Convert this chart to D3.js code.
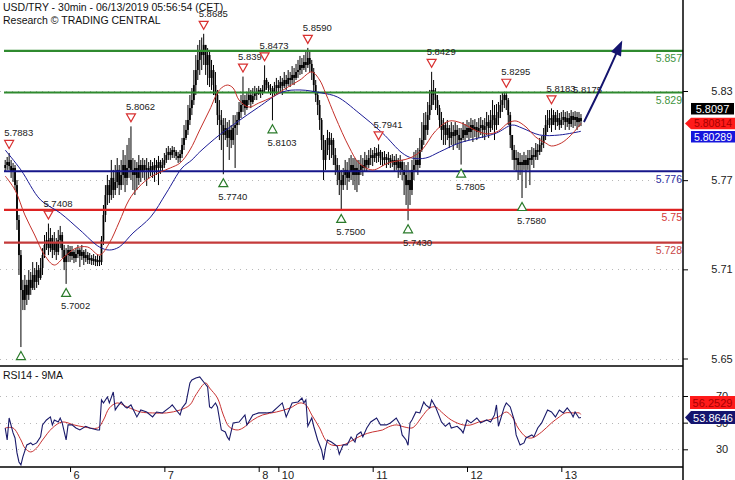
<!DOCTYPE html>
<html><head><meta charset="utf-8">
<script src="https://cdn.jsdelivr.net/npm/d3@7"></script>
<style>body{margin:0;background:#fff}svg{display:block;font-family:"Liberation Sans",Arial,sans-serif}</style>
</head><body><svg id="chart" width="735" height="480"></svg>
<script>
// ---------------- DATA ----------------
const titleLine1 = "USD/TRY - 30min - 06/13/2019 05:56:54 (CET)";
const titleLine2 = "Research \u00A9 TRADING CENTRAL";
const rsiTitle = "RSI14 - 9MA";
const firstOpen = 5.7782;
const closes = [
5.7802,5.7822,5.7795,5.7755,5.7782,5.7667,5.7432,5.7196,5.6961,5.6894,
5.6995,5.6928,5.7029,5.6975,5.7062,5.7015,5.7095,5.7042,5.7109,5.7196,
5.7264,5.7297,5.7243,5.7311,5.7230,5.7284,5.7217,5.7297,5.7331,5.7230,
5.7149,5.7196,5.7230,5.7190,5.7217,5.7176,5.7203,5.7230,5.7190,5.7217,
5.7176,5.7196,5.7163,5.7176,5.7156,5.7169,5.7149,5.7163,5.7149,5.7297,
5.7466,5.7600,5.7667,5.7600,5.7715,5.7634,5.7688,5.7769,5.7667,5.7735,
5.7802,5.7715,5.7782,5.7836,5.7769,5.7735,5.7782,5.7715,5.7802,5.7755,
5.7802,5.7769,5.7782,5.7755,5.7795,5.7769,5.7802,5.7782,5.7822,5.7782,
5.7802,5.7836,5.7869,5.7890,5.7869,5.7903,5.7890,5.7863,5.7849,5.7876,
5.7937,5.7984,5.8038,5.8105,5.8185,5.8239,5.8340,5.8441,5.8509,5.8576,
5.8542,5.8610,5.8475,5.8542,5.8388,5.8441,5.8340,5.8273,5.8138,5.8105,
5.8071,5.8004,5.8051,5.7984,5.8038,5.7970,5.8051,5.8071,5.8105,5.8159,
5.8206,5.8239,5.8185,5.8239,5.8273,5.8226,5.8266,5.8293,5.8280,5.8307,
5.8293,5.8307,5.8374,5.8340,5.8320,5.8307,5.8293,5.8320,5.8340,5.8320,
5.8361,5.8334,5.8374,5.8347,5.8388,5.8374,5.8408,5.8388,5.8428,5.8441,
5.8475,5.8455,5.8495,5.8475,5.8522,5.8482,5.8428,5.8340,5.8273,5.8206,
5.8105,5.7970,5.7836,5.7903,5.7984,5.7937,5.7970,5.7869,5.7802,5.7755,
5.7701,5.7667,5.7735,5.7769,5.7715,5.7755,5.7802,5.7735,5.7782,5.7735,
5.7769,5.7802,5.7782,5.7836,5.7802,5.7849,5.7869,5.7849,5.7883,5.7863,
5.7890,5.7849,5.7836,5.7856,5.7836,5.7849,5.7822,5.7836,5.7802,5.7836,
5.7782,5.7822,5.7769,5.7735,5.7667,5.7701,5.7634,5.7769,5.7802,5.7836,
5.7802,5.7903,5.7970,5.8071,5.8038,5.8138,5.8206,5.8307,5.8273,5.8239,
5.8185,5.8105,5.8038,5.8071,5.8004,5.8051,5.7984,5.8024,5.7997,5.8038,
5.8004,5.7970,5.7984,5.8038,5.8004,5.8051,5.8024,5.8071,5.8038,5.8058,
5.8024,5.8051,5.8071,5.8038,5.8064,5.8091,5.8051,5.8105,5.8138,5.8071,
5.8118,5.8159,5.8206,5.8239,5.8273,5.8239,5.8138,5.8004,5.7903,5.7836,
5.7849,5.7802,5.7822,5.7802,5.7836,5.7802,5.7849,5.7836,5.7869,5.7856,
5.7903,5.7890,5.7937,5.7950,5.8004,5.8071,5.8105,5.8118,5.8071,5.8138,
5.8091,5.8118,5.8071,5.8105,5.8125,5.8091,5.8118,5.8078,5.8132,5.8105,
5.8125,5.8091,5.8118,5.8097];
const highs = [
5.7836,5.7856,5.7883,5.7836,5.7816,5.7802,5.7701,5.7466,5.7230,5.7029,
5.7062,5.7029,5.7095,5.7082,5.7149,5.7109,5.7149,5.7129,5.7176,5.7243,
5.7331,5.7351,5.7408,5.7378,5.7331,5.7351,5.7311,5.7365,5.7392,5.7351,
5.7264,5.7243,5.7264,5.7257,5.7257,5.7230,5.7243,5.7264,5.7243,5.7264,
5.7230,5.7237,5.7217,5.7210,5.7196,5.7203,5.7190,5.7196,5.7190,5.7324,
5.7533,5.7667,5.7735,5.7701,5.7836,5.7769,5.7802,5.7849,5.7802,5.7836,
5.7903,5.7869,5.7937,5.7984,5.8062,5.7849,5.7836,5.7822,5.7869,5.7836,
5.7849,5.7836,5.7849,5.7822,5.7836,5.7822,5.7849,5.7836,5.7863,5.7836,
5.7849,5.7883,5.7916,5.7930,5.7916,5.7930,5.7923,5.7903,5.7890,5.7903,
5.7984,5.8071,5.8105,5.8206,5.8273,5.8320,5.8441,5.8542,5.8610,5.8643,
5.8660,5.8685,5.8610,5.8589,5.8563,5.8509,5.8475,5.8428,5.8307,5.8239,
5.8172,5.8118,5.8118,5.8091,5.8105,5.8071,5.8138,5.8138,5.8159,5.8226,
5.8273,5.8397,5.8273,5.8293,5.8320,5.8307,5.8320,5.8334,5.8320,5.8334,
5.8320,5.8340,5.8473,5.8388,5.8361,5.8347,5.8334,5.8361,5.8388,5.8374,
5.8401,5.8388,5.8428,5.8408,5.8441,5.8428,5.8468,5.8455,5.8482,5.8509,
5.8536,5.8522,5.8542,5.8563,5.8590,5.8563,5.8509,5.8455,5.8374,5.8293,
5.8239,5.8118,5.8004,5.7970,5.8038,5.8024,5.8017,5.7984,5.7916,5.7849,
5.7802,5.7769,5.7782,5.7836,5.7822,5.7849,5.7869,5.7849,5.7849,5.7836,
5.7836,5.7869,5.7849,5.7890,5.7869,5.7903,5.7916,5.7903,5.7923,5.7916,
5.7941,5.7903,5.7890,5.7896,5.7876,5.7890,5.7869,5.7876,5.7863,5.7876,
5.7849,5.7869,5.7836,5.7822,5.7802,5.7822,5.7769,5.7836,5.7890,5.7903,
5.7916,5.7984,5.8091,5.8152,5.8159,5.8226,5.8307,5.8429,5.8374,5.8320,
5.8273,5.8206,5.8159,5.8118,5.8091,5.8105,5.8071,5.8091,5.8071,5.8091,
5.8071,5.8051,5.8051,5.8091,5.8078,5.8105,5.8091,5.8118,5.8105,5.8111,
5.8091,5.8118,5.8125,5.8105,5.8118,5.8159,5.8138,5.8172,5.8239,5.8206,
5.8212,5.8226,5.8273,5.8293,5.8287,5.8295,5.8253,5.8159,5.8004,5.7937,
5.7903,5.7890,5.7883,5.7869,5.7890,5.7869,5.7903,5.7903,5.7923,5.7916,
5.7950,5.7943,5.7984,5.7997,5.8051,5.8138,5.8172,5.8172,5.8183,5.8172,
5.8159,5.8172,5.8152,5.8159,5.8172,5.8159,5.8165,5.8152,5.8172,5.8159,
5.8165,5.8159,5.8159,5.8145];
const lows = [
5.7755,5.7769,5.7769,5.7715,5.7688,5.7634,5.7365,5.7062,5.6577,5.6826,
5.6826,5.6860,5.6894,5.6928,5.6961,5.6961,5.6975,5.6995,5.7029,5.7062,
5.7176,5.7230,5.7196,5.7217,5.7176,5.7196,5.7163,5.7196,5.7243,5.7176,
5.7095,5.7002,5.7149,5.7149,5.7163,5.7142,5.7149,5.7176,5.7116,5.7163,
5.7129,5.7149,5.7136,5.7136,5.7129,5.7129,5.7122,5.7122,5.7122,5.7129,
5.7264,5.7418,5.7533,5.7546,5.7567,5.7580,5.7600,5.7647,5.7600,5.7634,
5.7667,5.7620,5.7667,5.7715,5.7701,5.7634,5.7600,5.7634,5.7667,5.7688,
5.7715,5.7701,5.7661,5.7715,5.7728,5.7715,5.7688,5.7735,5.7667,5.7742,
5.7755,5.7782,5.7816,5.7836,5.7836,5.7849,5.7849,5.7836,5.7816,5.7822,
5.7849,5.7903,5.7970,5.8004,5.8071,5.8138,5.8206,5.8273,5.8374,5.8408,
5.8441,5.8475,5.8408,5.8340,5.8327,5.8307,5.8273,5.8219,5.8071,5.7970,
5.7903,5.7740,5.7970,5.7923,5.7836,5.7916,5.7937,5.7782,5.8004,5.8071,
5.8118,5.8159,5.8138,5.8172,5.8206,5.8185,5.8212,5.8239,5.8239,5.8273,
5.8253,5.8273,5.8293,5.8307,5.8293,5.8273,5.8103,5.8266,5.8273,5.8280,
5.8293,5.8273,5.8320,5.8307,5.8334,5.8327,5.8347,5.8340,5.8374,5.8388,
5.8408,5.8414,5.8441,5.8428,5.8455,5.8428,5.8374,5.8293,5.8226,5.8138,
5.8038,5.7903,5.7701,5.7769,5.7869,5.7836,5.7849,5.7802,5.7735,5.7667,
5.7600,5.7500,5.7634,5.7667,5.7634,5.7688,5.7701,5.7667,5.7634,5.7620,
5.7667,5.7735,5.7728,5.7755,5.7755,5.7782,5.7802,5.7795,5.7822,5.7816,
5.7822,5.7802,5.7795,5.7802,5.7782,5.7802,5.7782,5.7789,5.7755,5.7769,
5.7715,5.7735,5.7701,5.7600,5.7533,5.7430,5.7533,5.7600,5.7701,5.7755,
5.7735,5.7782,5.7890,5.7937,5.7970,5.8004,5.8105,5.8172,5.8206,5.8172,
5.8138,5.8051,5.7970,5.7937,5.7937,5.7970,5.7916,5.7937,5.7903,5.7937,
5.7916,5.7903,5.7805,5.7970,5.7957,5.7984,5.7970,5.7984,5.7957,5.7990,
5.7970,5.7984,5.8004,5.7984,5.7970,5.8004,5.7984,5.8024,5.8038,5.7970,
5.8038,5.8071,5.8118,5.8159,5.8185,5.8172,5.8071,5.7916,5.7836,5.7769,
5.7755,5.7701,5.7735,5.7580,5.7769,5.7647,5.7769,5.7667,5.7802,5.7782,
5.7836,5.7836,5.7869,5.7890,5.7916,5.7970,5.8024,5.8051,5.8024,5.8071,
5.8038,5.8064,5.8038,5.8051,5.8071,5.8038,5.8058,5.8038,5.8058,5.8051,
5.8064,5.8038,5.8058,5.8064];

// moving averages on price: [bar, price]
const redMA = [[0,5.7728],[5,5.7634],[10,5.7466],[15,5.7331],[20,5.7196],[25,5.7129],[30,5.7183],[36,5.7243],[42,5.7250],[48,5.7196],[53,5.7277],[58,5.7418],[63,5.7567],[68,5.7654],[74,5.7721],[79,5.7755],[84,5.7782],[89,5.7816],[94,5.7903],[99,5.8038],[104,5.8172],[109,5.8307],[113,5.8340],[116,5.8320],[119,5.8239],[124,5.8192],[129,5.8219],[136,5.8260],[143,5.8320],[150,5.8374],[156,5.8428],[160,5.8374],[163,5.8287],[168,5.8125],[175,5.7923],[180,5.7816],[187,5.7769],[195,5.7816],[206,5.7849],[212,5.7903],[219,5.8031],[226,5.8098],[232,5.8085],[240,5.8031],[246,5.8011],[251,5.8031],[256,5.8085],[260,5.8098],[265,5.8058],[270,5.7990],[275,5.7950],[278,5.7930],[283,5.7950],[288,5.8004],[293,5.80814]];
const blueMA = [[0,5.7903],[8,5.7769],[18,5.7567],[28,5.7479],[38,5.7365],[48,5.7250],[53,5.7230],[58,5.7250],[65,5.7344],[74,5.7452],[82,5.7614],[90,5.7782],[95,5.7836],[99,5.7890],[109,5.8004],[118,5.8091],[129,5.8192],[141,5.8293],[150,5.8307],[161,5.8287],[169,5.8260],[180,5.8152],[192,5.8017],[202,5.7883],[207,5.7849],[214,5.7849],[221,5.7890],[231,5.7950],[241,5.7984],[250,5.8017],[258,5.8071],[263,5.8051],[272,5.8004],[282,5.8004],[293,5.80289]];

// RSI14 and its 9MA: [bar, value]
const rsiLine = [[0,46.0],[1,37.0],[2,53.5],[4,42.3],[5,38.5],[6,27.3],[7,20.5],[8,18.3],[9,24.3],[11,33.3],[13,34.8],[14,33.3],[16,34.8],[18,39.3],[19,48.3],[21,52.0],[23,54.3],[24,48.3],[25,52.0],[27,50.5],[28,53.5],[29,49.8],[31,37.0],[32,48.3],[34,48.3],[36,46.0],[38,44.5],[41,47.3],[43,46.0],[47,44.5],[48,44.5],[49,67.0],[50,64.8],[52,69.3],[53,64.8],[55,73.0],[56,59.5],[57,61.8],[59,65.5],[61,61.8],[62,61.0],[64,63.3],[67,54.3],[69,59.5],[72,58.0],[75,54.3],[77,58.0],[80,57.3],[84,61.8],[85,63.3],[87,59.5],[89,55.8],[90,61.0],[92,64.8],[94,79.8],[95,82.0],[97,83.5],[99,84.3],[101,80.5],[103,76.8],[104,61.8],[105,61.0],[107,64.8],[108,61.8],[110,44.5],[112,43.0],[113,39.3],[114,37.0],[116,49.8],[119,50.5],[122,55.8],[123,48.3],[126,55.8],[129,57.3],[133,57.3],[136,58.0],[141,64.8],[143,54.3],[146,64.8],[149,65.5],[151,68.5],[152,64.8],[153,67.0],[154,47.3],[156,53.5],[157,47.3],[159,37.0],[161,29.5],[162,22.0],[163,31.0],[164,37.0],[166,35.5],[169,32.3],[170,26.3],[172,33.3],[174,33.3],[176,39.3],[178,35.5],[179,40.8],[181,43.0],[182,39.3],[184,46.0],[186,50.5],[189,53.5],[191,48.3],[194,48.3],[196,49.8],[199,53.5],[201,48.3],[202,40.8],[204,37.0],[205,33.0],[206,49.8],[207,52.0],[209,58.0],[211,57.3],[213,65.5],[214,63.3],[216,61.0],[217,67.0],[219,61.8],[221,54.3],[222,50.5],[224,47.3],[226,49.8],[227,46.0],[230,47.3],[232,44.5],[233,42.3],[235,52.0],[237,49.8],[240,53.5],[242,49.8],[245,52.0],[247,50.5],[249,55.8],[250,63.3],[251,47.3],[254,61.8],[255,64.8],[257,61.8],[259,52.0],[260,40.8],[262,33.3],[264,34.8],[265,38.5],[268,40.8],[269,39.3],[271,46.0],[273,49.8],[276,59.5],[278,58.0],[280,54.3],[282,59.5],[284,57.3],[286,61.0],[288,57.3],[289,54.3],[290,58.0],[292,53.5],[293,53.86]];
const rsiMA = [[0,46.0],[4,46.0],[8,37.0],[10,31.0],[13,28.0],[16,31.0],[19,37.0],[24,46.0],[29,50.5],[35,48.3],[40,46.8],[47,46.0],[50,52.0],[53,61.0],[57,64.8],[62,61.8],[69,58.0],[75,57.3],[82,57.3],[89,59.5],[94,63.3],[97,70.8],[102,79.8],[104,76.0],[108,68.5],[111,55.8],[114,46.8],[118,44.5],[121,46.0],[126,52.0],[131,55.8],[138,58.0],[145,61.0],[150,64.8],[153,63.3],[156,55.8],[160,46.0],[163,37.0],[166,33.3],[172,33.3],[177,37.0],[182,40.8],[187,43.0],[192,44.5],[195,46.8],[199,48.3],[203,46.8],[207,46.0],[209,48.3],[212,54.3],[216,61.0],[219,61.8],[222,58.0],[227,52.0],[233,48.3],[237,48.3],[241,50.5],[246,52.0],[251,54.3],[255,58.0],[258,54.3],[261,46.0],[265,39.3],[268,38.5],[273,43.0],[278,49.8],[282,54.3],[285,57.3],[289,57.3],[292,57.3],[293,56.25]];

// key levels
const levelValues = [5.857, 5.829, 5.776, 5.75, 5.728];
const levelLabels = ["5.857", "5.829", "5.776", "5.75", "5.728"];

// pivots
const pivotBars   = [2, 8, 22, 31, 64, 101, 111, 121, 132, 136, 154, 171, 190, 205, 217, 232, 255, 263, 278];
const pivotPrices = [5.7883, 5.6577, 5.7408, 5.7002, 5.8062, 5.8685, 5.7740, 5.8397, 5.8473, 5.8103, 5.8590, 5.7500, 5.7941, 5.7430, 5.8429, 5.7805, 5.8295, 5.7580, 5.8183];
const pivotKinds  = ["H","L","H","L","H","H","L","H","H","L","H","L","H","L","H","L","H","L","H"];
const pivotLabels = ["5.7883","","5.7408","5.7002","5.8062","5.8685","5.7740","5.8397","5.8473","5.8103","5.8590","5.7500","5.7941","5.7430","5.8429","5.7805","5.8295","5.7580","5.8183"];
const noteBar = 290, notePrice = 5.8175, noteLabel = "5.8175";

// forecast arrow
const forecastBars = [294.5, 302, 314];
const forecastPrices = [5.8091, 5.8293, 5.8640];

// axes
const priceTicks = [5.83, 5.77, 5.71, 5.65];
const rsiTicks = [70, 50, 30];
const dayLabels = ["6", "7", "8", "10", "11", "12", "13"];
const dayBars = [33, 81, 129, 139, 187, 235, 283];

// current values
const lastPrice = 5.8097, lastRedMA = 5.80814, lastBlueMA = 5.80289;
const lastRSI = 53.8646, lastRSIMA = 56.2529;

// ---------------- DRAW ----------------
const FONT = '"Liberation Sans", Arial, sans-serif';
const svg = d3.select("#chart");
const PR = 683, MB = 366, RB = 467;
const xS = d3.scaleLinear().domain([0, 344]).range([5.2, 681.2]);
const yP = d3.scaleLinear().domain([5.83, 5.65]).range([91, 358.5]);
const yR = d3.scaleLinear().domain([70, 30]).range([396, 449.3]);

const defs = svg.append("defs");
defs.append("clipPath").attr("id","cm").append("rect").attr("x",0).attr("y",0).attr("width",PR).attr("height",MB);
defs.append("clipPath").attr("id","cr").append("rect").attr("x",0).attr("y",MB).attr("width",PR).attr("height",RB-MB);

// grid
const grid = svg.append("g").attr("stroke","#b8b8b8").attr("stroke-dasharray","1,5").attr("shape-rendering","crispEdges");
grid.selectAll("line.p").data(priceTicks).join("line").attr("class","p")
  .attr("x1",0).attr("x2",PR).attr("y1",d=>Math.round(yP(d))+0.5).attr("y2",d=>Math.round(yP(d))+0.5);
grid.selectAll("line.r").data(rsiTicks).join("line").attr("class","r")
  .attr("x1",0).attr("x2",PR).attr("y1",d=>Math.round(yR(d))+0.5).attr("y2",d=>Math.round(yR(d))+0.5);

// candles
const bars = closes.map((c,i)=>{
  const o = i ? closes[i-1] : firstOpen;
  return {i, o, c, h: Math.max(highs[i], o, c), l: Math.min(lows[i], o, c)};
});
const gc = svg.append("g").attr("clip-path","url(#cm)");
gc.selectAll("line.w").data(bars).join("line").attr("class","w")
  .attr("x1",d=>xS(d.i)).attr("x2",d=>xS(d.i))
  .attr("y1",d=>yP(d.h)).attr("y2",d=>yP(d.l))
  .attr("stroke","#000").attr("stroke-width",1);
gc.selectAll("rect.b").data(bars).join("rect").attr("class","b")
  .attr("x",d=>xS(d.i)-0.9).attr("width",1.8)
  .attr("y",d=>yP(Math.max(d.o,d.c)))
  .attr("height",d=>Math.max(1, yP(Math.min(d.o,d.c))-yP(Math.max(d.o,d.c))))
  .attr("fill","#000");

// levels
const levelColors = ["#2f8a2f","#2f8a2f","#16168a","#dd2222","#c43a3a"];
const levelTextColors = ["#3f943f","#3f943f","#2b2ba0","#d43a3a","#c84545"];
const gl = svg.append("g");
levelValues.forEach((v,k)=>{
  gl.append("line").attr("x1",4).attr("x2",PR).attr("y1",yP(v)).attr("y2",yP(v))
    .attr("stroke",levelColors[k]).attr("stroke-width",2.2);
  gl.append("text").attr("x",PR-1).attr("y",yP(v)+11.5).attr("text-anchor","end")
    .attr("font-size",10.5).attr("font-family",FONT).attr("fill",levelTextColors[k]).text(levelLabels[k]);
});

// moving averages
const lineP = d3.line().x(d=>xS(d[0])).y(d=>yP(d[1])).curve(d3.curveCatmullRom.alpha(0.5));
const gma = svg.append("g").attr("clip-path","url(#cm)").attr("fill","none");
gma.append("path").attr("d",lineP(blueMA)).attr("stroke","#1c1c96").attr("stroke-width",1);
gma.append("path").attr("d",lineP(redMA)).attr("stroke","#c4302a").attr("stroke-width",1);

// pivots
const gp = svg.append("g");
pivotBars.forEach((b,k)=>{
  const x = xS(b), isH = pivotKinds[k]==="H";
  const ty = yP(pivotPrices[k]) + (isH ? -8.5 : 8.5);
  const pts = isH ? [[x-4.5,ty-4],[x+4.5,ty-4],[x,ty+4]] : [[x-4.5,ty+4],[x+4.5,ty+4],[x,ty-4]];
  gp.append("path").attr("d","M"+pts.map(p=>p.join(",")).join("L")+"Z")
    .attr("fill","#fff").attr("stroke", isH ? "#d83030" : "#2a7a2a").attr("stroke-width",1.2);
  if (pivotLabels[k]) {
    gp.append("text").attr("x",x-5).attr("y", isH ? ty-8 : ty+17)
      .attr("font-size",9.5).attr("font-family",FONT).attr("fill","#222").text(pivotLabels[k]);
  }
});
gp.append("text").attr("x",xS(noteBar)-2).attr("y",yP(notePrice)-16.5)
  .attr("font-size",9.5).attr("font-family",FONT).attr("fill","#222").text(noteLabel);

// forecast arrow
const fpts = forecastBars.map((b,k)=>[xS(b), yP(forecastPrices[k])]);
svg.append("path").attr("d", d3.line().curve(d3.curveMonotoneY)(fpts.map((p,k,a)=>{
  if (k===a.length-1) { const q=a[k-1]; const dx=p[0]-q[0], dy=p[1]-q[1], L=Math.hypot(dx,dy); return [p[0]-dx/L*10, p[1]-dy/L*10]; }
  return p; })))
  .attr("fill","none").attr("stroke","#14146e").attr("stroke-width",2);
{
  const p = fpts[fpts.length-1], q = fpts[fpts.length-2];
  const dx=p[0]-q[0], dy=p[1]-q[1], L=Math.hypot(dx,dy), ux=dx/L, uy=dy/L;
  const bx=p[0]-ux*15, by=p[1]-uy*15, nx=-uy, ny=ux;
  svg.append("path").attr("d",`M${p[0]},${p[1]}L${bx+nx*5.5},${by+ny*5.5}L${bx-nx*5.5},${by-ny*5.5}Z`).attr("fill","#14146e");
}

// RSI lines
const gr = svg.append("g").attr("clip-path","url(#cr)").attr("fill","none");
gr.append("path").attr("d",d3.line().x(d=>xS(d[0])).y(d=>yR(d[1])).curve(d3.curveCatmullRom.alpha(0.5))(rsiMA)).attr("stroke","#c83232").attr("stroke-width",1);
gr.append("path").attr("d",d3.line().x(d=>xS(d[0])).y(d=>yR(d[1]))(rsiLine)).attr("stroke","#1a1a6a").attr("stroke-width",1.1);

// frame
const fr = svg.append("g").attr("stroke","#000").attr("stroke-width",1.5);
fr.append("line").attr("x1",0).attr("x2",PR).attr("y1",MB).attr("y2",MB);
fr.append("line").attr("x1",0).attr("x2",PR).attr("y1",RB).attr("y2",RB);
fr.append("line").attr("x1",PR).attr("x2",PR).attr("y1",0).attr("y2",480);

// right axes
function styleAxis(g){
  g.select(".domain").remove();
  g.attr("font-family",FONT).attr("font-size",11);
  g.selectAll("line").attr("stroke","#000");
  g.selectAll("text").attr("x",39).attr("text-anchor","middle").attr("fill","#222");
}
svg.append("g").attr("transform",`translate(${PR},0)`)
  .call(d3.axisRight(yP).tickValues(priceTicks).tickSize(5).tickFormat(d3.format(".2f"))).call(styleAxis);
svg.append("g").attr("transform",`translate(${PR},0)`)
  .call(d3.axisRight(yR).tickValues(rsiTicks).tickSize(5).tickFormat(d3.format("d"))).call(styleAxis);

// bottom axis
svg.append("g").attr("transform",`translate(0,${RB})`)
  .call(d3.axisBottom(xS).tickValues(dayBars).tickSize(5).tickFormat((d,i)=>dayLabels[i]))
  .call(g=>{
    g.select(".domain").remove();
    g.attr("font-family",FONT).attr("font-size",11);
    g.selectAll("line").attr("stroke","#000");
    g.selectAll("text").attr("x",3).attr("y",4).attr("text-anchor","start").attr("fill","#222");
  });

// value boxes (price)
const bx = svg.append("g").attr("font-family",FONT);
const cyR = yP(lastRedMA);
bx.append("path").attr("d",`M685,${cyR}L691,${cyR-5.7}L735,${cyR-5.7}L735,${cyR+5.7}L691,${cyR+5.7}Z`).attr("fill","#ff1a1a");
bx.append("text").attr("x",713).attr("y",cyR+4).attr("text-anchor","middle").attr("font-size",10.5).attr("fill","#a80000").text(d3.format(".5f")(lastRedMA));
bx.append("rect").attr("x",691).attr("y",cyR-20.5).attr("width",43).attr("height",11.5).attr("fill","#000");
bx.append("text").attr("x",712.5).attr("y",cyR-10.8).attr("text-anchor","middle").attr("font-size",11).attr("fill","#fff").text(d3.format(".4f")(lastPrice));
bx.append("rect").attr("x",691).attr("y",cyR+7.5).attr("width",44).attr("height",11.5).attr("fill","#1616dc");
bx.append("text").attr("x",713).attr("y",cyR+17.2).attr("text-anchor","middle").attr("font-size",10.5).attr("fill","#fff").text(d3.format(".5f")(lastBlueMA));

// value boxes (RSI)
const cyS = yR(lastRSI);
bx.append("rect").attr("x",690).attr("y",cyS-21.5).attr("width",45).attr("height",13).attr("fill","#ff1a1a");
bx.append("text").attr("x",712.5).attr("y",cyS-11).attr("text-anchor","middle").attr("font-size",11).attr("fill","#a80000").text(d3.format(".4f")(lastRSIMA));
bx.append("path").attr("d",`M685,${cyS}L691,${cyS-6.5}L735,${cyS-6.5}L735,${cyS+6.5}L691,${cyS+6.5}Z`).attr("fill","#14146e");
bx.append("text").attr("x",713).attr("y",cyS+4).attr("text-anchor","middle").attr("font-size",11).attr("fill","#fff").text(d3.format(".4f")(lastRSI));

// titles
const tt = svg.append("g").attr("font-family",FONT).attr("font-size",10.5).attr("fill","#111");
tt.append("text").attr("x",3).attr("y",11).text(titleLine1);
tt.append("text").attr("x",3).attr("y",23.5).text(titleLine2);
tt.append("text").attr("x",3).attr("y",379).text(rsiTitle);
</script></body></html>
